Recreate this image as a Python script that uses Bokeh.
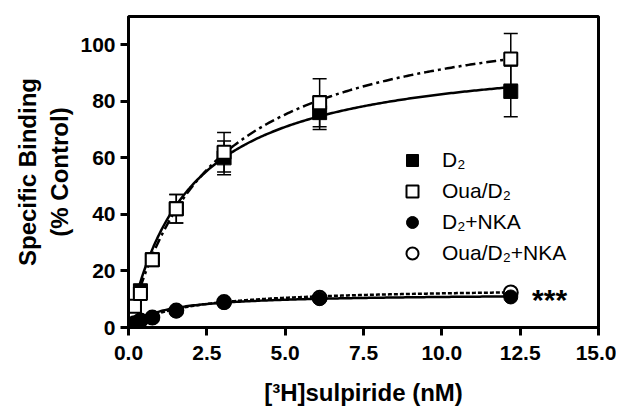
import numpy as np
from bokeh.plotting import figure
from bokeh.models import Range1d, Whisker, ColumnDataSource, Legend, LegendItem, Label, FixedTicker, NumeralTickFormatter, TeeHead
from bokeh.embed import file_html
from bokeh.resources import INLINE

# concentrations of [3H]sulpiride (nM)
conc = [0.048, 0.095, 0.19, 0.38, 0.76, 1.525, 3.05, 6.1, 12.2]
# specific binding (% control)
d2 = [2.5, 4.0, 7.0, 13.0, 24.0, 42.0, 60.0, 76.0, 83.5]
d2_err = [0.5, 1.0, 1.5, 2.0, 2.0, 5.0, 6.0, 6.0, 9.0]
oua_d2 = [2.5, 4.5, 7.5, 12.0, 24.0, 42.0, 62.0, 79.5, 95.0]
oua_d2_err = [0.5, 1.0, 1.5, 2.0, 2.0, 5.0, 7.0, 8.5, 9.0]
d2_nka = [0.5, 1.0, 1.5, 2.5, 3.5, 5.8, 8.8, 10.2, 10.8]
oua_d2_nka = [0.5, 1.0, 1.5, 2.5, 3.5, 6.0, 9.0, 10.5, 12.4]

# one-site binding fit parameters (Bmax, Kd)
fit_d2 = (98.6, 1.95)
fit_oua = (116.0, 2.7)
fit_nka = (12.0, 1.11)
fit_oua_nka = (14.2, 1.76)

x_ticks = [0.0, 2.5, 5.0, 7.5, 10.0, 12.5, 15.0]
y_ticks = [0, 20, 40, 60, 80, 100]

FONT = "Liberation Sans"

p = figure(width=616, height=408, output_backend="svg", toolbar_location=None,
           x_range=Range1d(0, 15), y_range=Range1d(0, 110),
           min_border_left=128, min_border_right=18, min_border_top=16, min_border_bottom=80)
p.grid.visible = False
p.outline_line_color = "black"
p.outline_line_width = 3

for ax in (p.xaxis[0], p.yaxis[0]):
    ax.axis_line_width = 3
    ax.major_tick_line_width = 3
    ax.major_tick_out = 8
    ax.major_tick_in = 0
    ax.minor_tick_line_color = None
    ax.major_label_text_font = FONT
    ax.major_label_text_font_style = "bold"
    ax.major_label_text_font_size = "21px"
    ax.major_label_text_color = "black"
    ax.axis_label_text_font = FONT
    ax.axis_label_text_font_style = "bold"
    ax.axis_label_text_font_size = "24px"
    ax.axis_label_text_color = "black"

p.xaxis.ticker = FixedTicker(ticks=x_ticks)
p.xaxis.formatter = NumeralTickFormatter(format="0.0")
p.yaxis.ticker = FixedTicker(ticks=y_ticks)
p.xaxis.axis_label = "[³H]sulpiride (nM)"
p.yaxis.axis_label = "Specific Binding\n(% Control)"
p.yaxis.axis_label_text_line_height = 1.2
p.xaxis.axis_label_text_line_height = 1.0
p.xaxis.major_label_text_line_height = 1.0
p.xaxis.major_label_standoff = 10
p.yaxis.major_label_standoff = 5
p.xaxis.axis_label_standoff = 16
p.yaxis.axis_label_standoff = 4

# fitted curves
xc = np.linspace(0.0, conc[-1], 200)
def curve(params):
    b, k = params
    return b * xc / (k + xc)

p.line(xc, curve(fit_d2), line_color="black", line_width=2.5)
p.line(xc, curve(fit_oua), line_color="black", line_width=2.5, line_dash="10 4 3 4")
p.line(xc, curve(fit_nka), line_color="black", line_width=2.5)
p.line(xc, curve(fit_oua_nka), line_color="black", line_width=2.5, line_dash="4 2")

def add_err(vals, errs):
    src = ColumnDataSource(dict(x=conc, lo=[v - e for v, e in zip(vals, errs)],
                                hi=[v + e for v, e in zip(vals, errs)]))
    w = Whisker(base="x", lower="lo", upper="hi", source=src, line_color="black", line_width=1.5,
                upper_head=TeeHead(size=14, line_width=1.5, line_color="black"),
                lower_head=TeeHead(size=14, line_width=1.5, line_color="black"))
    p.add_layout(w)

add_err(d2, d2_err)
add_err(oua_d2, oua_d2_err)

r1 = p.scatter(conc, d2, marker="square", size=14, fill_color="black", line_color="black")
r2 = p.scatter(conc, oua_d2, marker="square", size=13, fill_color="white", line_color="black", line_width=2)
r4 = p.scatter(conc, oua_d2_nka, marker="circle", size=14, fill_color="white", line_color="black", line_width=2)
r3 = p.scatter(conc, d2_nka, marker="circle", size=14, fill_color="black", line_color="black")

legend = Legend(items=[LegendItem(label="D₂", renderers=[r1]),
                       LegendItem(label="Oua/D₂", renderers=[r2]),
                       LegendItem(label="D₂+NKA", renderers=[r3]),
                       LegendItem(label="Oua/D₂+NKA", renderers=[r4])],
                location=(269, 59), orientation="vertical",
                glyph_width=30, glyph_height=30, label_height=30, spacing=1,
                label_standoff=15, padding=0, margin=0,
                border_line_alpha=0, background_fill_alpha=0,
                label_text_font=FONT, label_text_font_size="21px", label_text_color="black")
p.add_layout(legend)

p.add_layout(Label(x=12.88, y=10.0, text="***", text_font=FONT, text_font_style="bold",
                   text_font_size="30px", text_baseline="alphabetic", text_align="left", text_color="black"))

open("out.html", "w").write(file_html(p, INLINE))
